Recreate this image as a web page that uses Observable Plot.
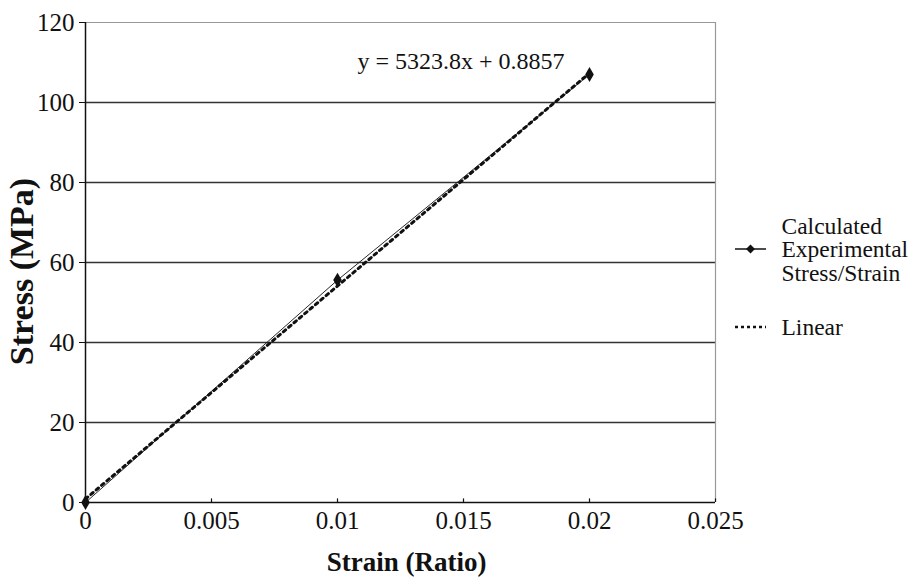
<!DOCTYPE html>
<html>
<head>
<meta charset="utf-8">
<script src="https://cdn.jsdelivr.net/npm/d3@7"></script>
<script src="https://cdn.jsdelivr.net/npm/@observablehq/plot@0.6"></script>
<style>
  body { margin: 0; background: #fff; }
  #wrap { position: relative; width: 918px; height: 585px; }
  #legend { position: absolute; left: 0; top: 0; width: 918px; height: 585px; pointer-events: none; }
</style>
</head>
<body>
<div id="wrap">
  <div id="chart"></div>
  <div id="legend">
    <svg width="918" height="585" style="position:absolute;left:0;top:0">
      <line x1="735" y1="249" x2="766" y2="249" stroke="#111" stroke-width="1.5"/>
      <path d="M750.5,244.5 L755,249 L750.5,253.5 L746,249 Z" fill="#111"/>
      <line x1="735" y1="327" x2="766" y2="327" stroke="#111" stroke-width="2.5" stroke-dasharray="3,3"/>
    </svg>
  </div>
</div>
<script>
// Experimental data
const strain = [0, 0.01, 0.02];
const stress = [0, 55.6, 107.0];
// Linear fit
const slope = 5323.8;
const intercept = 0.8857;
const fitX = [0, 0.02];
// Ticks
const xTicks = [0, 0.005, 0.01, 0.015, 0.02, 0.025];
const xTickLabels = ["0", "0.005", "0.01", "0.015", "0.02", "0.025"];
const yTicks = [0, 20, 40, 60, 80, 100, 120];
const gridY = [20, 40, 60, 80, 100];
const equation = "y = 5323.8x + 0.8857";
// Legend
const legendExp = "Calculated\nExperimental\nStress/Strain";
const legendFit = "Linear";

const exp = strain.map((s, i) => ({x: s, y: stress[i]}));
const fit = fitX.map(x => ({x, y: slope * x + intercept}));

const chart = Plot.plot({
  width: 918,
  height: 585,
  marginLeft: 85,
  marginRight: 203,
  marginTop: 22,
  marginBottom: 83,
  style: {fontFamily: "'Liberation Serif', 'Times New Roman', serif", fontSize: "25px", background: "#fff", color: "#111"},
  x: {domain: [0, 0.025]},
  y: {domain: [0, 120]},
  marks: [
    Plot.ruleY(gridY, {stroke: "#333", strokeWidth: 1.5}),
    Plot.ruleY([120], {stroke: "#999", strokeWidth: 1.2}),
    Plot.ruleX([0.025], {stroke: "#999", strokeWidth: 1.2}),
    Plot.ruleX(xTicks, {x: d => d, y1: 0, y2: 0.9, stroke: "#111", strokeWidth: 1.2}),
    Plot.ruleX([0], {stroke: "#111", strokeWidth: 1.5}),
    Plot.ruleY([0], {stroke: "#111", strokeWidth: 1.5}),
    Plot.axisY(yTicks, {tickSize: 6, tickPadding: 5, fontSize: 25, label: null, tickFormat: d => String(d)}),
    Plot.axisX(xTicks, {tickSize: 0, tickPadding: 9, fontSize: 25, label: null, tickFormat: (d, i) => xTickLabels[i]}),
    Plot.text(["Stress (MPa)"], {frameAnchor: "left", textAnchor: "middle", dx: -63, dy: 9, rotate: -90, fontSize: 34, fontWeight: "bold"}),
    Plot.text(["Strain (Ratio)"], {frameAnchor: "bottom", textAnchor: "middle", dx: 6, dy: 68, fontSize: 27, fontWeight: "bold"}),
    Plot.line(fit, {x: "x", y: "y", stroke: "#111", strokeWidth: 3, strokeDasharray: "3,4"}),
    Plot.line(exp, {x: "x", y: "y", stroke: "#111", strokeWidth: 0.9}),
    Plot.dot(exp, {x: "x", y: "y", symbol: "diamond", r: 4.5, fill: "#111"}),
    Plot.text([equation], {x: 0.0149, y: 110.2, fontSize: 24, fill: "#111"}),
    Plot.text([legendExp], {frameAnchor: "right", textAnchor: "start", lineAnchor: "middle", lineHeight: 1.0, dx: 66, dy: -13, fontSize: 23.5, fill: "#111"}),
    Plot.text([legendFit], {frameAnchor: "right", textAnchor: "start", lineAnchor: "middle", dx: 66, dy: 65, fontSize: 23.5, fill: "#111"})
  ]
});
document.getElementById("chart").appendChild(chart);
</script>
</body>
</html>
